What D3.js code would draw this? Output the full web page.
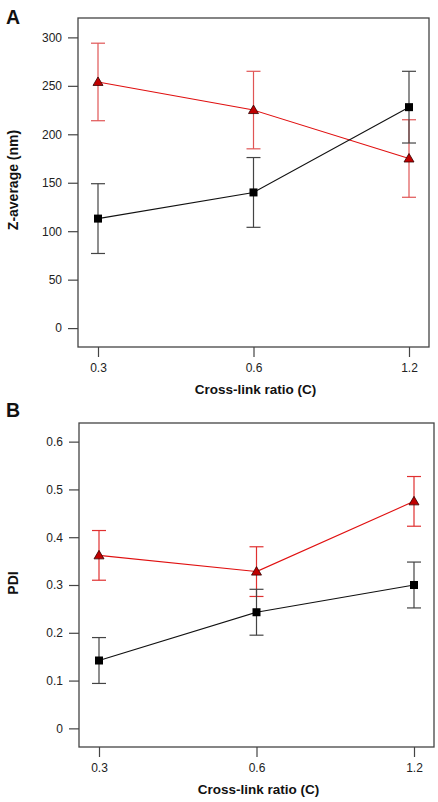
<!DOCTYPE html>
<html>
<head>
<meta charset="utf-8">
<script src="https://cdn.jsdelivr.net/npm/d3@7"></script>
<style>
  body { margin: 0; background: #fff; }
  svg { display: block; font-family: "Liberation Sans", Arial, sans-serif; }
</style>
</head>
<body>
<div id="chart"></div>
<script>
// cross-link ratios (categorical)
var ratios = ["0.3", "0.6", "1.2"];

// panel A: Z-average (nm)
var zRed = [254, 225, 175],
    zRedErr = [40, 40, 40];
var zBlack = [113, 140, 228],
    zBlackErr = [36, 36, 37];
var zTicks = [0, 50, 100, 150, 200, 250, 300];

// panel B: PDI
var pdiRed = [0.362, 0.328, 0.475],
    pdiRedErr = [0.052, 0.052, 0.052];
var pdiBlack = [0.142, 0.243, 0.300],
    pdiBlackErr = [0.048, 0.048, 0.048];
var pdiTicks = [0, 0.1, 0.2, 0.3, 0.4, 0.5, 0.6];

var W = 438, H = 802;
var svg = d3.select("#chart").append("svg")
    .attr("width", W).attr("height", H);

function drawPanel(p) {
  var g = svg.append("g");
  var x = d3.scalePoint().domain(ratios).range([p.left + 20, p.right - 20]);
  var y = d3.scaleLinear().domain(p.domain).range([p.bottom, p.top]);

  // frame
  g.append("rect")
    .attr("x", p.left).attr("y", p.top)
    .attr("width", p.right - p.left).attr("height", p.bottom - p.top)
    .attr("fill", "none").attr("stroke", "#444").attr("stroke-width", 1.3);

  // y axis
  var ya = g.append("g")
    .attr("transform", "translate(" + p.left + ",0)")
    .call(d3.axisLeft(y).tickValues(p.ticks).tickSize(10).tickPadding(6)
      .tickFormat(p.fmt));
  ya.select(".domain").remove();
  ya.selectAll("line").attr("stroke", "#444").attr("stroke-width", 1.2);
  ya.selectAll("text").attr("font-size", 12).attr("fill", "#222")
    .attr("font-family", "Liberation Sans, Arial, sans-serif");

  // x axis
  var xa = g.append("g")
    .attr("transform", "translate(0," + p.bottom + ")")
    .call(d3.axisBottom(x).tickSize(10).tickPadding(6));
  xa.select(".domain").remove();
  xa.selectAll("line").attr("stroke", "#444").attr("stroke-width", 1.2);
  xa.selectAll("text").attr("font-size", 12).attr("fill", "#222")
    .attr("font-family", "Liberation Sans, Arial, sans-serif");

  // titles
  g.append("text")
    .attr("x", (p.left + p.right) / 2 + 2).attr("y", p.bottom + 47)
    .attr("text-anchor", "middle").attr("font-weight", "bold")
    .attr("font-size", 13.5).attr("fill", "#111")
    .text("Cross-link ratio (C)");
  g.append("text")
    .attr("transform", "translate(18," + p.ytitleY + ") rotate(-90)")
    .attr("text-anchor", "middle").attr("font-weight", "bold")
    .attr("font-size", 14).attr("fill", "#111")
    .text(p.ylabel);
  g.append("text")
    .attr("x", 6).attr("y", p.letterY)
    .attr("font-weight", "bold").attr("font-size", 19.5).attr("fill", "#111")
    .text(p.letter);

  p.series.forEach(function (s) {
    var pts = ratios.map(function (r, i) {
      return { r: r, v: s.values[i], e: s.err[i] };
    });
    // error bars
    var eb = g.append("g").attr("stroke", s.errColor).attr("stroke-width", 1.2);
    pts.forEach(function (d) {
      var cx = x(d.r);
      eb.append("line").attr("x1", cx).attr("x2", cx)
        .attr("y1", y(d.v - d.e)).attr("y2", y(d.v + d.e));
      eb.append("line").attr("x1", cx - 7).attr("x2", cx + 7)
        .attr("y1", y(d.v - d.e)).attr("y2", y(d.v - d.e));
      eb.append("line").attr("x1", cx - 7).attr("x2", cx + 7)
        .attr("y1", y(d.v + d.e)).attr("y2", y(d.v + d.e));
    });
    // line
    g.append("path").datum(pts)
      .attr("fill", "none").attr("stroke", s.lineColor).attr("stroke-width", 1.1)
      .attr("d", d3.line().x(function (d) { return x(d.r); })
                          .y(function (d) { return y(d.v); }));
    // markers
    if (s.marker === "square") {
      g.selectAll(null).data(pts).enter().append("rect")
        .attr("x", function (d) { return x(d.r) - 4; })
        .attr("y", function (d) { return y(d.v) - 4; })
        .attr("width", 8).attr("height", 8).attr("fill", "#000");
    } else {
      g.selectAll(null).data(pts).enter().append("path")
        .attr("transform", function (d) { return "translate(" + x(d.r) + "," + y(d.v) + ")"; })
        .attr("d", "M0,-5L5,3.5L-5,3.5Z")
        .attr("fill", "#c00000").attr("stroke", "#300").attr("stroke-width", 0.8);
    }
  });
}

drawPanel({
  letter: "A", letterY: 24,
  left: 78, right: 429, top: 18, bottom: 347,
  domain: [-19.5, 320], ticks: zTicks, fmt: d3.format("d"),
  ylabel: "Z-average (nm)", ytitleY: 180,
  series: [
    { values: zRed, err: zRedErr, lineColor: "#e01010", errColor: "#e05555", marker: "tri" },
    { values: zBlack, err: zBlackErr, lineColor: "#111", errColor: "#444", marker: "square" }
  ]
});

drawPanel({
  letter: "B", letterY: 417,
  left: 79, right: 434, top: 423, bottom: 747,
  domain: [-0.039, 0.639], ticks: pdiTicks,
  fmt: function (d) { return d === 0 ? "0" : d3.format(".1f")(d); },
  ylabel: "PDI", ytitleY: 583,
  series: [
    { values: pdiRed, err: pdiRedErr, lineColor: "#e01010", errColor: "#e03030", marker: "tri" },
    { values: pdiBlack, err: pdiBlackErr, lineColor: "#111", errColor: "#444", marker: "square" }
  ]
});
</script>
</body>
</html>
